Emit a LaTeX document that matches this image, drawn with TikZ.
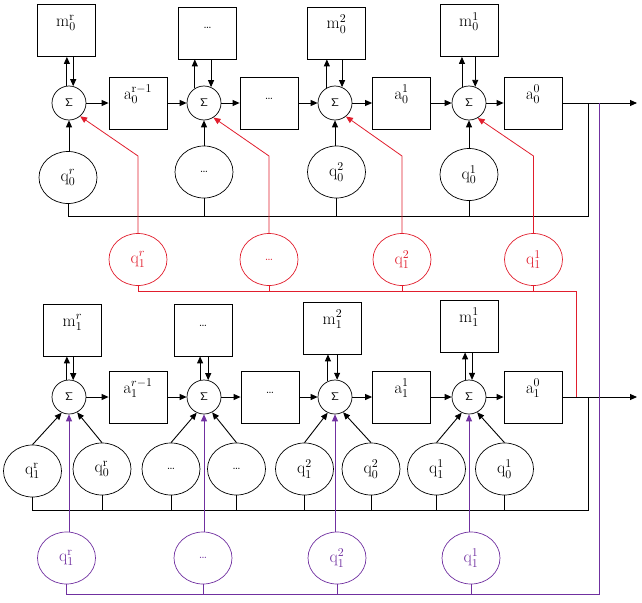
\RequirePackage{fix-cm}
\documentclass[tikz,border=0pt]{standalone}
\usetikzlibrary{arrows.meta,shapes.geometric}
\definecolor{myred}{RGB}{225,30,45}
\definecolor{mypurple}{RGB}{112,48,160}
\tikzset{
 box/.style={draw, line width=0.8pt, minimum width=58pt, minimum height=52pt, inner sep=0pt, text height=12pt, text depth=20pt, font=\fontsize{17}{20}\selectfont},
 dotsbox/.style={box, font=\fontsize{13}{15}\selectfont},
 sig/.style={circle, draw, line width=0.7pt, minimum size=34pt, inner sep=0pt, font=\fontsize{11}{13}\selectfont},
 qell/.style={ellipse, draw, line width=0.7pt, minimum width=58pt, minimum height=52pt, inner sep=0pt, font=\fontsize{17}{20}\selectfont},
 dotsell/.style={qell, font=\fontsize{13}{15}\selectfont},
 redn/.style={draw=myred, text=myred},
 purpn/.style={draw=mypurple, text=mypurple},
 ln/.style={line width=0.9pt},
 arr/.style={ln, -{Triangle[length=7pt,width=6pt]}},
 redln/.style={myred, line width=0.8pt},
 redarr/.style={redln, -{Triangle[length=7pt,width=6pt]}},
 purpln/.style={mypurple, line width=0.8pt},
 purparr/.style={purpln, -{Triangle[length=7pt,width=6pt]}},
}
\begin{document}
\begin{tikzpicture}[x=1pt,y=-1pt]
\useasboundingbox (0,0) rectangle (642,602);
% ---------- top row ----------
\node[box] (M0r) at (66,30.5) {$\mathrm{m}_0^{\mathrm{r}}$};
\node[dotsbox] (M0d) at (207.5,33) {\ldots};
\node[box] (M02) at (336.5,33) {$\mathrm{m}_0^{2}$};
\node[box] (M01) at (469,30.5) {$\mathrm{m}_0^{1}$};
\node[sig] (S01) at (69,103) {$\mathsf{\Sigma}$};
\node[sig] (S02) at (204,103) {$\mathsf{\Sigma}$};
\node[sig] (S03) at (335,103) {$\mathsf{\Sigma}$};
\node[sig] (S04) at (469,103) {$\mathsf{\Sigma}$};
\node[box] (A0r) at (138,103) {$\mathrm{a}_0^{\mathrm{r}-1}$};
\node[dotsbox] (A0d) at (269,103) {\ldots};
\node[box] (A01) at (401.5,103) {$\mathrm{a}_0^{1}$};
\node[box] (A00) at (533,103) {$\mathrm{a}_0^{0}$};
\coordinate (O0) at (637,103);
\node[qell] (Q0r) at (68,177.5) {$\mathrm{q}_0^{r}$};
\node[dotsell] (Q0d) at (204,172) {\ldots};
\node[qell] (Q02) at (336.5,172) {$\mathrm{q}_0^{2}$};
\node[qell] (Q01) at (469,174.5) {$\mathrm{q}_0^{1}$};
\coordinate (TB) at (588,216);
\coordinate (TJ) at (588,103);
\coordinate (PJ) at (599,103);
\coordinate (PB) at (599,594);
% red
\node[qell,redn] (R1r) at (138,259.5) {$\mathrm{q}_1^{r}$};
\node[dotsell,redn] (R1d) at (269,259.5) {\ldots};
\node[qell,redn] (R12) at (402,259.5) {$\mathrm{q}_1^{2}$};
\node[qell,redn] (R11) at (533.5,259.5) {$\mathrm{q}_1^{1}$};
\coordinate (RK) at (0,156);
\coordinate (RB) at (576,291);
\coordinate (RJ) at (576,397);
% ---------- lower row ----------
\node[box] (M1r) at (72.5,330) {$\mathrm{m}_1^{r}$};
\node[dotsbox] (M1d) at (203,330) {\ldots};
\node[box] (M12) at (332.5,328) {$\mathrm{m}_1^{2}$};
\node[box] (M11) at (469,326) {$\mathrm{m}_1^{1}$};
\node[sig] (S11) at (69,397) {$\mathsf{\Sigma}$};
\node[sig] (S12) at (204,397) {$\mathsf{\Sigma}$};
\node[sig] (S13) at (335,397) {$\mathsf{\Sigma}$};
\node[sig] (S14) at (469,397) {$\mathsf{\Sigma}$};
\node[box] (A1r) at (138,397) {$\mathrm{a}_1^{r-1}$};
\node[dotsbox] (A1d) at (270,397) {\ldots};
\node[box] (A11) at (401.5,397) {$\mathrm{a}_1^{1}$};
\node[box] (A10) at (533,397) {$\mathrm{a}_1^{0}$};
\coordinate (O1) at (637,397);
\node[qell] (B1) at (32.5,471) {$\mathrm{q}_1^{\mathrm{r}}$};
\node[qell] (B2) at (102,469) {$\mathrm{q}_0^{\mathrm{r}}$};
\node[dotsell] (B3) at (171,469) {\ldots};
\node[dotsell] (B4) at (236.5,469) {\ldots};
\node[qell] (B5) at (304.5,469) {$\mathrm{q}_1^{2}$};
\node[qell] (B6) at (371,469) {$\mathrm{q}_0^{2}$};
\node[qell] (B7) at (436.5,469) {$\mathrm{q}_1^{1}$};
\node[qell] (B8) at (504.5,469) {$\mathrm{q}_0^{1}$};
\coordinate (LB) at (588,510);
\coordinate (LJ) at (588,397);
\node[qell,purpn] (P1) at (66.5,558) {$\mathrm{q}_1^{\mathrm{r}}$};
\node[dotsell,purpn] (P2) at (203,558) {\ldots};
\node[qell,purpn] (P3) at (337,558) {$\mathrm{q}_1^{2}$};
\node[qell,purpn] (P4) at (471,558) {$\mathrm{q}_1^{1}$};
% ---------- top connectors ----------
\draw[arr] (S01) -- (A0r);
\draw[arr] (A0r) -- (S02);
\draw[arr] (S02) -- (A0d);
\draw[arr] (A0d) -- (S03);
\draw[arr] (S03) -- (A01);
\draw[arr] (A01) -- (S04);
\draw[arr] (S04) -- (A00);
\draw[arr] (A00.east) -- (O0);
\draw[arr] (S01.97) -- (S01.97 |- M0r.south);
\draw[arr] (S01.76 |- M0r.south) -- (S01.76);
\draw[arr] (S02.122) -- (S02.122 |- M0d.south);
\draw[arr] (S02.66 |- M0d.south) -- (S02.66);
\draw[arr] (S03.118) -- (S03.118 |- M02.south);
\draw[arr] (S03.66 |- M02.south) -- (S03.66);
\draw[arr] (S04.114) -- (S04.114 |- M01.south);
\draw[arr] (S04.69 |- M01.south) -- (S04.69);
\draw[arr] (S01.south |- Q0r.north) -- (S01.south);
\draw[arr] (S02.south |- Q0d.north) -- (S02.south);
\draw[arr] (S03.south |- Q02.north) -- (S03.south);
\draw[arr] (S04.south |- Q01.north) -- (S04.south);
\draw[ln] (Q0r.south) |- (TB) -- (TJ);
\draw[ln] (Q0d.south) -- (Q0d.south |- TB);
\draw[ln] (Q02.south) -- (Q02.south |- TB);
\draw[ln] (Q01.south) -- (Q01.south |- TB);
% red
\draw[redarr] (R1r.north) -- (R1r.north |- RK) -- (S01.-50);
\draw[redarr] (R1d.north) -- (R1d.north |- RK) -- (S02.-57);
\draw[redarr] (R12.north) -- (R12.north |- RK) -- (S03.-51);
\draw[redarr] (R11.north) -- (R11.north |- RK) -- (S04.-60);
\draw[redln] (R1r.south) |- (RB) -- (RJ);
\draw[redln] (R1d.south) -- (R1d.south |- RB);
\draw[redln] (R12.south) -- (R12.south |- RB);
\draw[redln] (R11.south) -- (R11.south |- RB);
% ---------- lower connectors ----------
\draw[arr] (S11) -- (A1r);
\draw[arr] (A1r) -- (S12);
\draw[arr] (S12) -- (A1d);
\draw[arr] (A1d) -- (S13);
\draw[arr] (S13) -- (A11);
\draw[arr] (A11) -- (S14);
\draw[arr] (S14) -- (A10);
\draw[arr] (A10.east) -- (O1);
\draw[arr] (S11.97) -- (S11.97 |- M1r.south);
\draw[arr] (S11.76 |- M1r.south) -- (S11.76);
\draw[arr] (S12.103) -- (S12.103 |- M1d.south);
\draw[arr] (S12.76 |- M1d.south) -- (S12.76);
\draw[arr] (S13.114) -- (S13.114 |- M12.south);
\draw[arr] (S13.83 |- M12.south) -- (S13.83);
\draw[arr] (S14.103) -- (S14.103 |- M11.south);
\draw[arr] (S14.80 |- M11.south) -- (S14.80);
\draw[arr] (B1.north) -- (S11.-115);
\draw[arr] (B2.north) -- (S11.-62);
\draw[arr] (B3.north) -- (S12.-115);
\draw[arr] (B4.north) -- (S12.-62);
\draw[arr] (B5.north) -- (S13.-115);
\draw[arr] (B6.north) -- (S13.-62);
\draw[arr] (B7.north) -- (S14.-115);
\draw[arr] (B8.north) -- (S14.-62);
\draw[ln] (B1.south) |- (LB) -- (LJ);
\draw[ln] (B2.south) -- (B2.south |- LB);
\draw[ln] (B3.south) -- (B3.south |- LB);
\draw[ln] (B4.south) -- (B4.south |- LB);
\draw[ln] (B5.south) -- (B5.south |- LB);
\draw[ln] (B6.south) -- (B6.south |- LB);
\draw[ln] (B7.south) -- (B7.south |- LB);
\draw[ln] (B8.south) -- (B8.south |- LB);
% purple
\draw[purparr] (S11.south |- P1.north) -- (S11.south);
\draw[purparr] (S12.south |- P2.north) -- (S12.south);
\draw[purparr] (S13.south |- P3.north) -- (S13.south);
\draw[purparr] (S14.south |- P4.north) -- (S14.south);
\draw[purpln] (P1.south) |- (PB) -- (PJ);
\draw[purpln] (P2.south) -- (P2.south |- PB);
\draw[purpln] (P3.south) -- (P3.south |- PB);
\draw[purpln] (P4.south) -- (P4.south |- PB);
\end{tikzpicture}
\end{document}
